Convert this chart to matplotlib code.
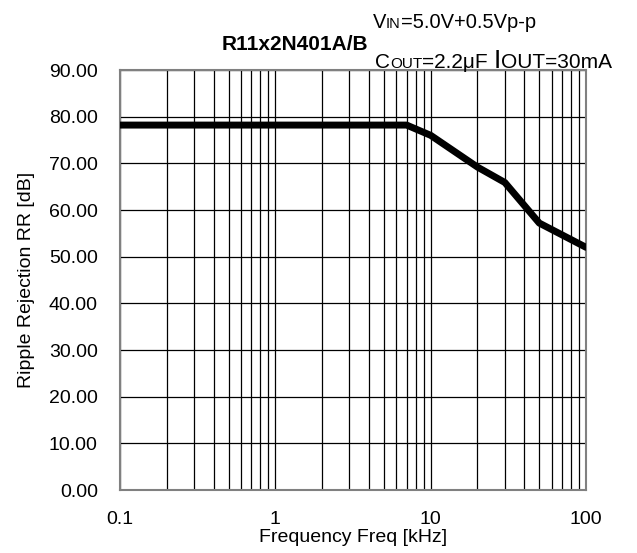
import numpy as np
import matplotlib
matplotlib.use("Agg")
import matplotlib.pyplot as plt
from matplotlib.ticker import LogLocator, NullFormatter

plt.rcParams['font.family'] = ['Liberation Sans', 'DejaVu Sans']

# Data
freq = [0.1, 0.2, 0.5, 1, 2, 5, 7, 10, 20, 30, 50, 100]
rr = [78.2, 78.2, 78.2, 78.2, 78.2, 78.2, 78.2, 76.0, 69.2, 65.9, 57.2, 52.0]
yticks = np.arange(0, 91, 10)
xticks = [0.1, 1, 10, 100]
xticklabels = ['0.1', '1', '10', '100']

fs = 14

fig = plt.figure(figsize=(6.37, 5.53), dpi=100)
ax = fig.add_axes([0.1884, 0.1139, 0.7316, 0.7595])

ax.plot(freq, rr, color='black', linewidth=5, solid_capstyle='round', zorder=3)

ax.set_xscale('log')
ax.set_xlim(0.1, 100)
ax.set_ylim(0, 90)
ax.set_xticks(xticks)
ax.set_xticklabels(xticklabels)
ax.xaxis.set_minor_locator(LogLocator(base=10, subs=np.arange(2, 10)))
ax.xaxis.set_minor_formatter(NullFormatter())
ax.set_yticks(yticks)
ax.set_yticklabels([f'{v:.2f}' for v in yticks])

ax.grid(which='major', axis='both', color='black', linewidth=0.9)
ax.grid(which='minor', axis='x', color='black', linewidth=0.9)
ax.tick_params(which='both', length=0, labelsize=fs)
ax.tick_params(axis='y', pad=16)
ax.tick_params(axis='x', pad=15)
for s in ax.spines.values():
    s.set_color('#808080')
    s.set_linewidth(1.5)

ax.set_xlabel('Frequency Freq [kHz]', fontsize=fs, labelpad=1)
ax.set_ylabel('Ripple Rejection RR [dB]', fontsize=fs, labelpad=10)

fig.text(0.463, 0.919, 'R11x2N401A/B', fontsize=15, fontweight='bold', ha='center', va='center')


def seg_text(x, y, parts):
    # place text pieces one after another (fake small caps)
    fig.canvas.draw()
    r = fig.canvas.get_renderer()
    for txt, size in parts:
        t = fig.text(x, y, txt, fontsize=size, ha='left', va='baseline')
        bb = t.get_window_extent(renderer=r)
        x += bb.width / fig.bbox.width


seg_text(0.585, 0.949, [('V', 14.5), ('IN', 10.5), ('=5.0V+0.5Vp-p', 14.5)])
seg_text(0.589, 0.877, [('C', 15), ('OUT', 11), ('=2.2\u03bcF ', 15),
                        ('I', 19), ('OUT=30mA', 15)])

fig.savefig('out.png', dpi=100)
